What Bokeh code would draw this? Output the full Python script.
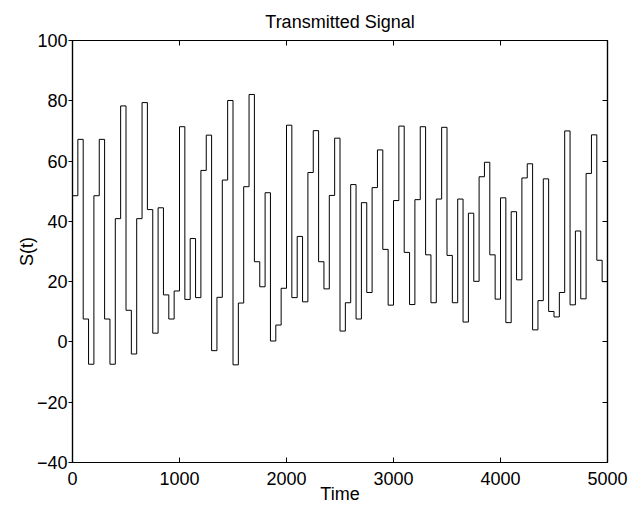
from bokeh.plotting import figure
from bokeh.models import Range1d, FixedTicker, LinearAxis
from bokeh.embed import file_html
from bokeh.resources import INLINE

# ---- data -------------------------------------------------------------
step_width = 50
signal = [48.5, 67.2, 7.6, -7.4, 48.5, 67.2, 7.6, -7.4, 40.9, 78.3,
          10.5, -4.0, 40.9, 79.4, 43.9, 2.9, 44.5, 15.6, 7.6, 16.9,
          71.4, 14.1, 34.3, 14.7, 56.9, 68.6, -2.9, 14.8, 53.7, 80.1,
          -7.6, 12.9, 51.5, 82.1, 26.6, 18.3, 49.5, 0.3, 5.6, 17.8,
          71.9, 14.7, 35.0, 13.3, 56.2, 70.1, 26.6, 17.6, 48.6, 67.6,
          3.6, 13.0, 52.2, 7.6, 46.2, 16.4, 51.2, 63.7, 30.7, 12.2,
          46.9, 71.6, 29.7, 12.4, 47.2, 71.4, 28.9, 13.0, 47.4, 71.2,
          28.7, 13.0, 47.4, 6.6, 42.7, 20.1, 54.8, 59.6, 28.9, 14.2,
          47.8, 6.4, 43.2, 20.6, 54.4, 59.1, 4.0, 13.7, 54.1, 10.1,
          8.3, 16.4, 70.0, 12.3, 36.8, 14.3, 55.9, 68.7, 27.1, 20.0]
last_value = 16.4

x_ticks = [0, 1000, 2000, 3000, 4000, 5000]
x_tick_labels = ["0", "1000", "2000", "3000", "4000", "5000"]
y_ticks = [-40, -20, 0, 20, 40, 60, 80, 100]
y_tick_labels = ["\u221240", "\u221220", "0", "20", "40", "60", "80", "100"]

title_text = "Transmitted Signal"
x_label = "Time"
y_label = "S(t)"

# ---- build ------------------------------------------------------------
t = [i * step_width for i in range(len(signal))] + [len(signal) * step_width]
s = list(signal) + [last_value]

FONT = "Liberation Sans"
FS = "18px"

p = figure(width=639, height=506,
           x_range=Range1d(x_ticks[0], x_ticks[-1]),
           y_range=Range1d(y_ticks[0], y_ticks[-1]),
           output_backend="svg", toolbar_location=None,
           min_border_left=72, min_border_right=32,
           min_border_top=40, min_border_bottom=43,
           title=title_text)

p.step(t, s, mode="after", line_color="black", line_width=1)

p.grid.visible = False
p.background_fill_color = "white"
p.border_fill_color = "white"
p.outline_line_color = "black"
p.outline_line_width = 1.2

p.title.text_font = FONT
p.title.text_font_size = FS
p.title.text_font_style = "normal"
p.title.text_color = "black"
p.title.align = "center"
p.title.standoff = 18

xa = p.xaxis[0]
xa.ticker = FixedTicker(ticks=x_ticks)
xa.major_label_overrides = dict(zip(x_ticks, x_tick_labels))
xa.major_tick_in = 5
xa.major_tick_out = 0
xa.minor_tick_line_color = None
xa.major_label_standoff = 9
xa.major_label_text_font = FONT
xa.major_label_text_font_size = FS
xa.major_label_text_color = "black"
xa.axis_line_color = "black"
xa.axis_line_width = 1.2
xa.major_tick_line_color = "black"
xa.axis_label = x_label
xa.axis_label_text_font = FONT
xa.axis_label_text_font_size = FS
xa.axis_label_text_font_style = "normal"
xa.axis_label_text_color = "black"
try:
    xa.axis_label_standoff = -4
except Exception:
    xa.axis_label_standoff = 0

ya = p.yaxis[0]
ya.ticker = FixedTicker(ticks=y_ticks)
ya.major_label_overrides = dict(zip(y_ticks, y_tick_labels))
ya.major_tick_in = 0
ya.major_tick_out = 4
ya.minor_tick_line_color = None
ya.major_label_standoff = 1
ya.major_label_text_font = FONT
ya.major_label_text_font_size = FS
ya.major_label_text_color = "black"
ya.axis_line_color = "black"
ya.axis_line_width = 1.2
ya.major_tick_line_color = "black"
ya.axis_label = y_label
ya.axis_label_text_font = FONT
ya.axis_label_text_font_size = FS
ya.axis_label_text_font_style = "normal"
ya.axis_label_text_color = "black"
try:
    ya.axis_label_standoff = -3
except Exception:
    ya.axis_label_standoff = 0

top = LinearAxis(ticker=FixedTicker(ticks=x_ticks), major_tick_in=5, major_tick_out=0,
                 minor_tick_line_color=None, major_label_text_font_size="1px",
                 major_label_text_color=None,
                 major_label_standoff=0, axis_line_color="black", axis_line_width=1.2)
right = LinearAxis(ticker=FixedTicker(ticks=y_ticks), major_tick_in=5, major_tick_out=0,
                   minor_tick_line_color=None, major_label_text_font_size="1px",
                   major_label_text_color=None,
                   major_label_standoff=0, axis_line_color="black", axis_line_width=1.2)
p.add_layout(top, "above")
p.add_layout(right, "right")

open("out.html", "w").write(file_html(p, INLINE))
